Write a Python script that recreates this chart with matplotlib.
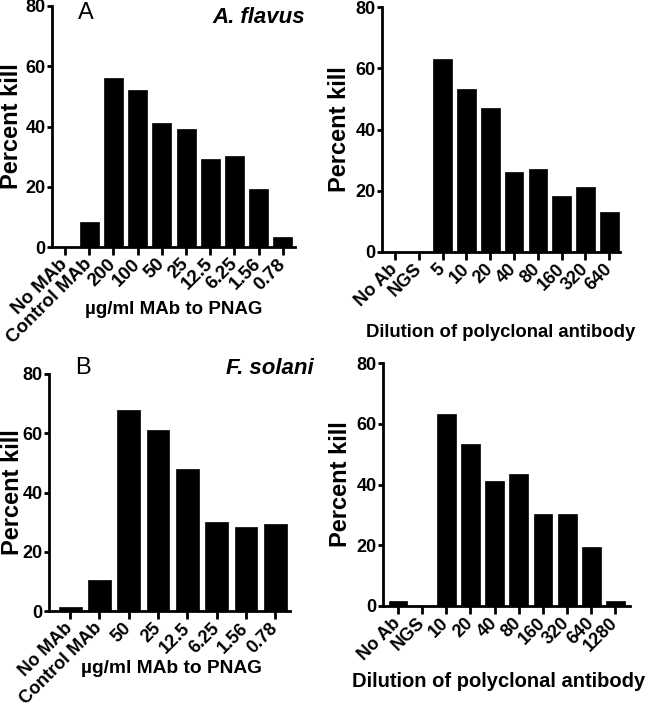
import matplotlib
matplotlib.use("Agg")
import matplotlib.pyplot as plt

plt.rcParams['font.family'] = ['Liberation Sans', 'DejaVu Sans']

# ---- data ----
a_mab_labels = ["No MAb", "Control MAb", "200", "100", "50", "25", "12.5", "6.25", "1.56", "0.78"]
a_mab_values = [0, 8.2, 56, 52.2, 41.1, 39.1, 29.2, 30.3, 19.2, 3.3]

a_poly_labels = ["No Ab", "NGS", "5", "10", "20", "40", "80", "160", "320", "640"]
a_poly_values = [0, 0, 63.1, 53.1, 47.1, 26.1, 27.1, 18.2, 21.2, 13.2]

b_mab_labels = ["No MAb", "Control MAb", "50", "25", "12.5", "6.25", "1.56", "0.78"]
b_mab_values = [1.5, 10.5, 68, 61.1, 48.1, 30.1, 28.2, 29.4]

b_poly_labels = ["No Ab", "NGS", "10", "20", "40", "80", "160", "320", "640", "1280"]
b_poly_values = [1.6, 0, 63.3, 53.2, 41.3, 43.5, 30.3, 30.3, 19.3, 1.6]

ylabel = "Percent kill"
xlabel_mab = "\u00b5g/ml MAb to PNAG"
xlabel_poly = "Dilution of polyclonal antibody"

W, H = 653, 707
fig = plt.figure(figsize=(W / 100, H / 100), dpi=100)


def px_axes(left, right, top, bottom):
    return fig.add_axes([left / W, 1 - bottom / H, (right - left) / W, (bottom - top) / H])


def panel(ax, labels, values, xlim, xlab, xlab_size, xlab_pos, ylab_x, tick_size=13):
    x = list(range(len(values)))
    ax.bar(x, values, width=0.78, color="black", edgecolor="black", linewidth=0.5)
    ax.set_xlim(*xlim)
    ax.set_ylim(0, 80)
    ax.set_yticks([0, 20, 40, 60, 80])
    ax.set_xticks(x)
    ax.set_xticklabels(labels, rotation=45, ha="right", va="center",
                       rotation_mode="anchor", fontsize=tick_size, fontweight="bold")
    for t in ax.get_yticklabels():
        t.set_fontsize(13)
        t.set_fontweight("bold")
    for s in ("top", "right"):
        ax.spines[s].set_visible(False)
    for s in ("left", "bottom"):
        ax.spines[s].set_linewidth(2.0)
    ax.tick_params(axis="x", direction="out", length=5.5, width=2.0, pad=5)
    ax.tick_params(axis="y", direction="out", length=3.5, width=2.0, pad=1)
    ax.set_ylabel(ylabel, fontsize=17, fontweight="bold")
    ax.yaxis.set_label_coords(ylab_x, 0.5)
    ax.set_xlabel(xlab, fontsize=xlab_size, fontweight="bold")
    ax.xaxis.set_label_coords(*xlab_pos)


ax1 = px_axes(52, 295, 6, 247)
panel(ax1, a_mab_labels, a_mab_values, (-0.54, 9.5), xlabel_mab, 13.5, (0.5, -0.225), -0.12,
      tick_size=13.5)
ax1.text(0.107, 0.969, "A", transform=ax1.transAxes, fontsize=17, va="center", ha="left")
ax1.text(1.04, 0.952, "A. flavus", transform=ax1.transAxes, fontsize=16,
         fontweight="bold", fontstyle="italic", va="center", ha="right")

ax2 = px_axes(382, 620, 7, 252)
panel(ax2, a_poly_labels, a_poly_values, (-0.55, 9.45), xlabel_poly, 13.3, (0.5, -0.295), -0.13)

ax3 = px_axes(49, 290, 374, 611)
panel(ax3, b_mab_labels, b_mab_values, (-0.72, 7.5), xlabel_mab, 13.8, (0.51, -0.205), -0.105)
ax3.text(0.108, 1.025, "B", transform=ax3.transAxes, fontsize=17, va="center", ha="left")
ax3.text(1.10, 1.025, "F. solani", transform=ax3.transAxes, fontsize=16,
         fontweight="bold", fontstyle="italic", va="center", ha="right")

ax4 = px_axes(383, 630, 363, 606)
panel(ax4, b_poly_labels, b_poly_values, (-0.62, 9.6), xlabel_poly, 14.5, (0.47, -0.27), -0.126)

fig.savefig("out.png", dpi=100)
